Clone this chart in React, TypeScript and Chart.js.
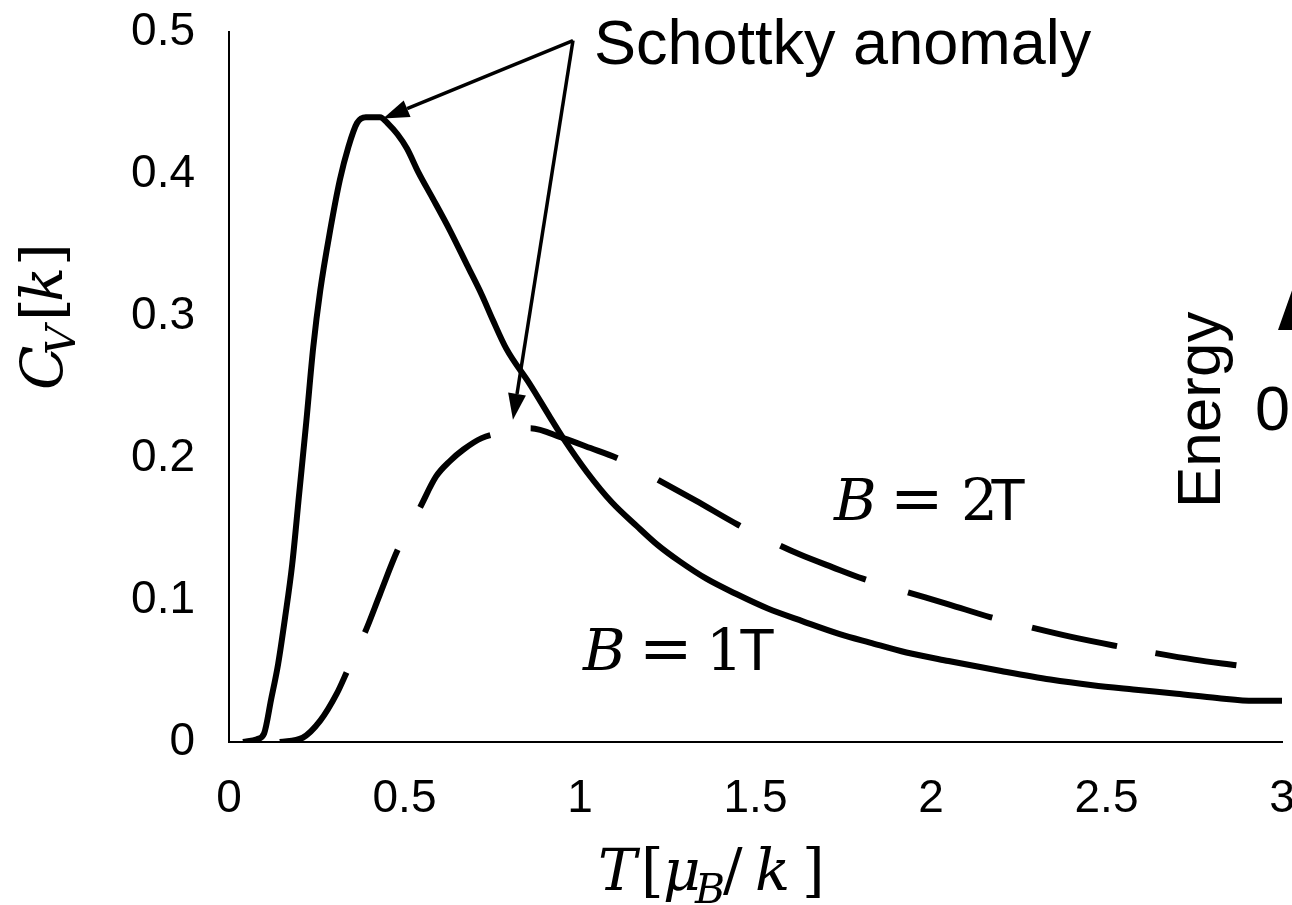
import { useEffect, useRef } from 'react';
import { Chart, registerables } from 'chart.js';

Chart.register(...registerables);

// Schottky heat capacity C_V [k] against temperature T [μ_B/k]
// Field B = 1T (solid curve)
const tempB1 = [0.04, 0.08, 0.1, 0.12, 0.14, 0.16, 0.18, 0.2, 0.22, 0.24, 0.26, 0.288, 0.316, 0.34, 0.365, 0.39, 0.43, 0.455, 0.48, 0.507, 0.54, 0.58, 0.63, 0.678, 0.72, 0.752, 0.79, 0.857, 0.914, 0.952, 1.02, 1.09, 1.162, 1.22, 1.285, 1.36, 1.447, 1.535, 1.635, 1.74, 1.826, 1.93, 2.05, 2.2, 2.34, 2.46, 2.576, 2.7, 2.815, 2.92, 3.0];
const heatB1 = [0, 0.002, 0.006, 0.03, 0.055, 0.088, 0.125, 0.175, 0.225, 0.278, 0.318, 0.36, 0.396, 0.419, 0.436, 0.44, 0.44, 0.435, 0.428, 0.418, 0.401, 0.383, 0.36, 0.336, 0.315, 0.297, 0.277, 0.252, 0.229, 0.214, 0.19, 0.169, 0.152, 0.139, 0.127, 0.115, 0.104, 0.094, 0.085, 0.076, 0.07, 0.063, 0.057, 0.05, 0.044, 0.04, 0.037, 0.034, 0.031, 0.029, 0.029];

// Field B = 2T (dashed curve)
const tempB2 = [0.145, 0.21, 0.26, 0.307, 0.335, 0.36, 0.387, 0.43, 0.48, 0.544, 0.59, 0.63, 0.668, 0.72, 0.78, 0.858, 0.952, 1.03, 1.105, 1.16, 1.22, 1.33, 1.45, 1.564, 1.627, 1.72, 1.806, 1.926, 2.05, 2.168, 2.28, 2.4, 2.52, 2.63, 2.75, 2.87];
const heatB2 = [0, 0.003, 0.015, 0.034, 0.049, 0.063, 0.077, 0.104, 0.135, 0.165, 0.187, 0.198, 0.206, 0.214, 0.218, 0.221, 0.214, 0.207, 0.2, 0.193, 0.185, 0.17, 0.153, 0.139, 0.132, 0.123, 0.115, 0.106, 0.097, 0.088, 0.081, 0.074, 0.068, 0.063, 0.058, 0.054];

const tempTicks = [0, 0.5, 1, 1.5, 2, 2.5, 3];
const heatTicks = [0, 0.1, 0.2, 0.3, 0.4, 0.5];

// call-out arrows: common start and the two peaks they point at (data units)
const calloutFrom = { x: 0.98, y: 0.494 };
const calloutTips = [
  { x: 0.439, y: 0.439 },
  { x: 0.809, y: 0.227 },
];
// baseline-left anchors of the field labels (data units)
const labelB1 = { x: 1.006, y: 0.0507, digit: '1' };
const labelB2 = { x: 1.721, y: 0.156, digit: '2' };

// dash / gap lengths (px) of the hand-dashed B = 2T curve
const dashB2 = [103, 44, 89, 48, 104, 41, 92, 46, 94, 45, 92, 44, 88, 41, 87, 39, 86, 60];

const SANS = '"Liberation Sans", Arial, Helvetica, sans-serif';
const MATH = '"DejaVu Serif", "Liberation Serif", serif';

// draw text so that its ink starts exactly at inkLeft
function inkText(ctx: CanvasRenderingContext2D, text: string, font: string, inkLeft: number, baseline: number) {
  ctx.font = font;
  const m = ctx.measureText(text);
  ctx.fillText(text, inkLeft + m.actualBoundingBoxLeft, baseline);
}

function arrow(ctx: CanvasRenderingContext2D, x0: number, y0: number, x1: number, y1: number) {
  const ang = Math.atan2(y1 - y0, x1 - x0);
  const head = 26;
  const half = 9;
  const bx = x1 - head * Math.cos(ang);
  const by = y1 - head * Math.sin(ang);
  ctx.beginPath();
  ctx.moveTo(x0, y0);
  ctx.lineTo(bx, by);
  ctx.lineWidth = 3.5;
  ctx.stroke();
  ctx.beginPath();
  ctx.moveTo(x1, y1);
  ctx.lineTo(bx + half * Math.sin(ang), by - half * Math.cos(ang));
  ctx.lineTo(bx - half * Math.sin(ang), by + half * Math.cos(ang));
  ctx.closePath();
  ctx.fill();
}

function fieldLabel(ctx: CanvasRenderingContext2D, left: number, baseline: number, digit: string) {
  inkText(ctx, 'B', `italic 58px ${MATH}`, left, baseline);
  inkText(ctx, '=', `64px ${MATH}`, left + 63, baseline);
  inkText(ctx, digit, `58px ${MATH}`, left + 131, baseline);
  inkText(ctx, 'T', `59px ${SANS}`, left + 158, baseline);
}

const annotations = {
  id: 'annotations',
  afterDraw(chart: any) {
    const ctx: CanvasRenderingContext2D = chart.ctx;
    const xs = chart.scales.x;
    const ys = chart.scales.y;
    const px = (v: number) => xs.getPixelForValue(v);
    const py = (v: number) => ys.getPixelForValue(v);

    ctx.save();
    ctx.fillStyle = '#000';
    ctx.strokeStyle = '#000';
    ctx.textAlign = 'left';
    ctx.textBaseline = 'alphabetic';

    // call-out
    const fx = px(calloutFrom.x);
    const fy = py(calloutFrom.y);
    calloutTips.forEach((t) => arrow(ctx, fx, fy, px(t.x), py(t.y)));
    inkText(ctx, 'Schottky anomaly', `63px ${SANS}`, 596, 64);

    // field labels
    fieldLabel(ctx, px(labelB1.x), py(labelB1.y), labelB1.digit);
    fieldLabel(ctx, px(labelB2.x), py(labelB2.y), labelB2.digit);

    // x-axis title  T[μ_B/k]
    const xb = 890;
    inkText(ctx, 'T', `italic 58px ${MATH}`, 600, xb);
    inkText(ctx, '[', `58px ${MATH}`, 645, xb);
    inkText(ctx, 'μ', `italic 58px ${MATH}`, 665, xb);
    inkText(ctx, 'B', `italic 41px ${MATH}`, 694, xb + 13);
    inkText(ctx, '/', `58px ${MATH}`, 723, xb);
    inkText(ctx, 'k', `italic 58px ${MATH}`, 757, xb);
    inkText(ctx, ']', `58px ${MATH}`, 806, xb);

    // y-axis title  C_V[k]  (rotated)
    ctx.save();
    ctx.translate(62, 388);
    ctx.rotate(-Math.PI / 2);
    inkText(ctx, 'C', `italic 58px ${MATH}`, 0, 0);
    inkText(ctx, 'V', `italic 41px ${MATH}`, 35, 13);
    inkText(ctx, '[', `58px ${MATH}`, 71, 0);
    inkText(ctx, 'k', `italic 58px ${MATH}`, 88, 0);
    inkText(ctx, ']', `58px ${MATH}`, 126, 0);
    ctx.restore();

    // energy-level axis at the right edge
    ctx.save();
    ctx.translate(1220, 503);
    ctx.rotate(-Math.PI / 2);
    inkText(ctx, 'Energy', `62px ${SANS}`, 0, 0);
    ctx.restore();
    inkText(ctx, '0', `63px ${SANS}`, 1257, 430);
    ctx.beginPath();
    ctx.moveTo(1278, 330);
    ctx.lineTo(1300, 268);
    ctx.lineTo(1322, 330);
    ctx.closePath();
    ctx.fill();

    ctx.restore();
  },
};

export default function App() {
  const canvasRef = useRef<HTMLCanvasElement | null>(null);

  useEffect(() => {
    const canvas = canvasRef.current;
    if (!canvas) return;
    const chart = new Chart(canvas, {
      type: 'line',
      data: {
        datasets: [
          {
            label: 'B = 1T',
            data: tempB1.map((t, i) => ({ x: t, y: heatB1[i] })),
            borderColor: '#000',
            borderWidth: 6,
            pointRadius: 0,
            fill: false,
            cubicInterpolationMode: 'monotone',
          },
          {
            label: 'B = 2T',
            data: tempB2.map((t, i) => ({ x: t, y: heatB2[i] })),
            borderColor: '#000',
            borderWidth: 6,
            borderDash: dashB2,
            pointRadius: 0,
            fill: false,
            cubicInterpolationMode: 'monotone',
          },
        ],
      },
      options: {
        responsive: false,
        animation: false,
        events: [],
        layout: { padding: { left: 0, right: 10, top: 32, bottom: 0 } },
        plugins: {
          legend: { display: false },
          tooltip: { enabled: false },
        },
        scales: {
          x: {
            type: 'linear',
            min: 0,
            max: 3,
            afterBuildTicks: (s: any) => {
              s.ticks = tempTicks.map((v) => ({ value: v }));
            },
            afterFit: (s: any) => {
              s.height = 163;
              s.paddingLeft = 0;
              s.paddingRight = 0;
            },
            grid: { display: false, drawTicks: false },
            border: { display: true, color: '#000', width: 2 },
            ticks: {
              color: '#000',
              font: { family: SANS, size: 46 },
              padding: 30,
              maxRotation: 0,
              autoSkip: false,
              callback: (v: any) => String(v),
            },
          },
          y: {
            type: 'linear',
            min: 0,
            max: 0.5,
            afterBuildTicks: (s: any) => {
              s.ticks = heatTicks.map((v) => ({ value: v }));
            },
            afterFit: (s: any) => {
              s.width = 229;
              s.paddingTop = 0;
              s.paddingBottom = 0;
            },
            grid: { display: false, drawTicks: false },
            border: { display: true, color: '#000', width: 2 },
            ticks: {
              color: '#000',
              font: { family: SANS, size: 46 },
              padding: 34,
              autoSkip: false,
              callback: (v: any) => String(v),
            },
          },
        },
      },
      plugins: [annotations],
    } as any);
    return () => chart.destroy();
  }, []);

  return (
    <div style={{ position: 'fixed', left: 0, top: 0, width: 1292, height: 905, background: '#fff', overflow: 'hidden' }}>
      <canvas ref={canvasRef} width={1292} height={905} style={{ display: 'block', width: 1292, height: 905 }} />
    </div>
  );
}
